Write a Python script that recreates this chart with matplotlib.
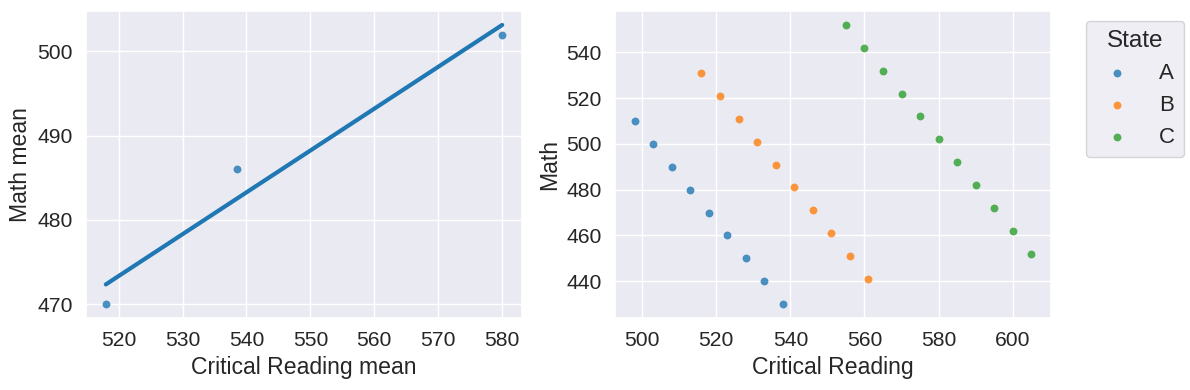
import numpy as np
import matplotlib
matplotlib.use("Agg")
import matplotlib.pyplot as plt
import seaborn as sns

sns.set_theme(style="darkgrid", font_scale=1.38)
plt.rcParams['font.family'] = ['Liberation Sans', 'DejaVu Sans']

# scores per state
states = ['A', 'B', 'C']
reading_a = [498, 503, 508, 513, 518, 523, 528, 533, 538]
math_a = [510, 500, 490, 480, 470, 460, 450, 440, 430]
reading_b = [516, 521, 526, 531, 536, 541, 546, 551, 556, 561]
math_b = [531, 521, 511, 501, 491, 481, 471, 461, 451, 441]
reading_c = [555, 560, 565, 570, 575, 580, 585, 590, 595, 600, 605]
math_c = [552, 542, 532, 522, 512, 502, 492, 482, 472, 462, 452]

reading = [reading_a, reading_b, reading_c]
maths = [math_a, math_b, math_c]
colors = ['#1f77b4', '#ff7f0e', '#2ca02c']

# means per state
reading_mean = np.array([np.mean(r) for r in reading])
math_mean = np.array([np.mean(m) for m in maths])

W, H = 1190, 390
fig = plt.figure(figsize=(W / 100, H / 100), dpi=100)
ax1 = fig.add_axes([86 / W, 72 / H, 436 / W, 307 / H])
ax2 = fig.add_axes([615 / W, 72 / H, 436 / W, 307 / H])

# left: regression on the means
ax1.scatter(reading_mean, math_mean, s=32, color=colors[0], alpha=0.8, linewidths=0)
slope, inter = np.polyfit(reading_mean, math_mean, 1)
xs = np.array([reading_mean.min(), reading_mean.max()])
ax1.plot(xs, slope * xs + inter, color=colors[0], lw=3)
ax1.set_xlabel('Critical Reading mean')
ax1.set_ylabel('Math mean')
ax1.set_xticks([520, 530, 540, 550, 560, 570, 580])
ax1.set_yticks([470, 480, 490, 500])

# right: all points by state
for st, r, m, c in zip(states, reading, maths, colors):
    ax2.scatter(r, m, s=32, color=c, alpha=0.8, linewidths=0, label=st)
ax2.set_xlabel('Critical Reading')
ax2.set_ylabel('Math')
ax2.set_yticks([440, 460, 480, 500, 520, 540])
ax2.legend(title='State', loc='upper left', bbox_to_anchor=(1086 / W, 1 - 21 / H),
           bbox_transform=fig.transFigure, borderaxespad=0,
           fontsize=16, title_fontsize=17.5, handletextpad=0.9)

plt.savefig('out.png')
